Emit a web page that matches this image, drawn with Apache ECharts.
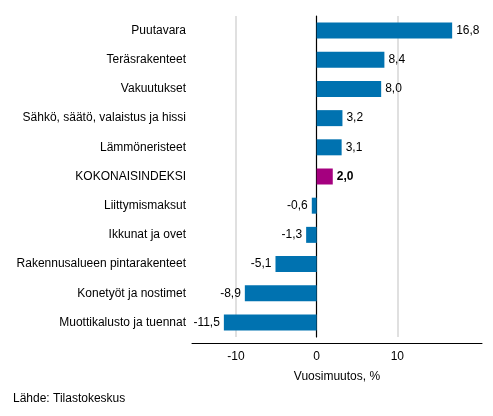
<!DOCTYPE html>
<html>
<head>
<meta charset="utf-8">
<script src="https://cdn.jsdelivr.net/npm/echarts@6/dist/echarts.min.js"></script>
<style>
  html, body { margin: 0; padding: 0; background: #fff; }
  #chart { width: 493px; height: 416px; }
</style>
</head>
<body>
<div id="chart"></div>
<script>
// top to bottom as in the picture
const categories = [
    'Puutavara',
    'Teräsrakenteet',
    'Vakuutukset',
    'Sähkö, säätö, valaistus ja hissi',
    'Lämmöneristeet',
    'KOKONAISINDEKSI',
    'Liittymismaksut',
    'Ikkunat ja ovet',
    'Rakennusalueen pintarakenteet',
    'Konetyöt ja nostimet',
    'Muottikalusto ja tuennat',
];
const values = [16.8, 8.4, 8.0, 3.2, 3.1, 2.0, -0.6, -1.3, -5.1, -8.9, -11.5];
const tickValues = [-10, 0, 10];
const totalName = 'KOKONAISINDEKSI';

const blue = '#0072b0';
const magenta = '#a5007f';
const font = '"Liberation Sans", Arial, sans-serif';

const fmt = (v) => v.toFixed(1).replace('.', ',');

const chart = echarts.init(document.getElementById('chart'), null, { renderer: 'canvas' });

chart.setOption({
    animation: false,
    backgroundColor: '#fff',
    textStyle: { fontFamily: font },
    grid: { left: 192, right: 11, top: 16, bottom: 79, containLabel: false, outerBoundsMode: 'none' },
    xAxis: {
        type: 'value',
        min: -15.45,
        max: 20.5,
        offset: 6,
        name: 'Vuosimuutos, %',
        nameLocation: 'middle',
        nameGap: 28,
        nameTextStyle: { color: '#000', fontSize: 12, fontFamily: font },
        axisLine: { show: true, onZero: false, lineStyle: { color: '#000', width: 1 } },
        axisTick: { show: false, customValues: tickValues },
        axisLabel: { color: '#000', fontSize: 12, margin: 8, customValues: tickValues, formatter: (v) => String(v) },
        splitLine: { show: false },
    },
    yAxis: {
        type: 'category',
        data: categories.slice().reverse(),
        axisLine: { show: true, onZero: true, lineStyle: { color: '#000', width: 1.2 } },
        axisTick: { show: false },
        axisLabel: {
            color: '#000',
            fontSize: 12,
            margin: 6,
            fontFamily: font,
        },
        splitLine: { show: false },
    },
    series: [
        {
            type: 'bar',
            barWidth: 16,
            data: values.slice().reverse().map((v, i) => {
                const name = categories[categories.length - 1 - i];
                const isTotal = name === totalName;
                return {
                    value: v,
                    itemStyle: { color: isTotal ? magenta : blue },
                    label: {
                        show: true,
                        position: v >= 0 ? 'right' : 'left',
                        distance: 4,
                        color: '#000',
                        fontSize: 12,
                        fontWeight: isTotal ? 'bold' : 'normal',
                        fontFamily: font,
                        formatter: () => fmt(v),
                    },
                };
            }),
            markLine: {
                silent: true,
                symbol: 'none',
                label: { show: false },
                lineStyle: { color: '#e0e0e0', width: 2, type: 'solid' },
                data: [{ xAxis: -10 }, { xAxis: 10 }],
                z: 0,
            },
            z: 2,
        },
    ],
    graphic: [
        {
            type: 'text',
            left: 13,
            top: 393,
            style: { text: 'Lähde: Tilastokeskus', fill: '#000', font: '12px ' + font },
        },
    ],
});
</script>
</body>
</html>
